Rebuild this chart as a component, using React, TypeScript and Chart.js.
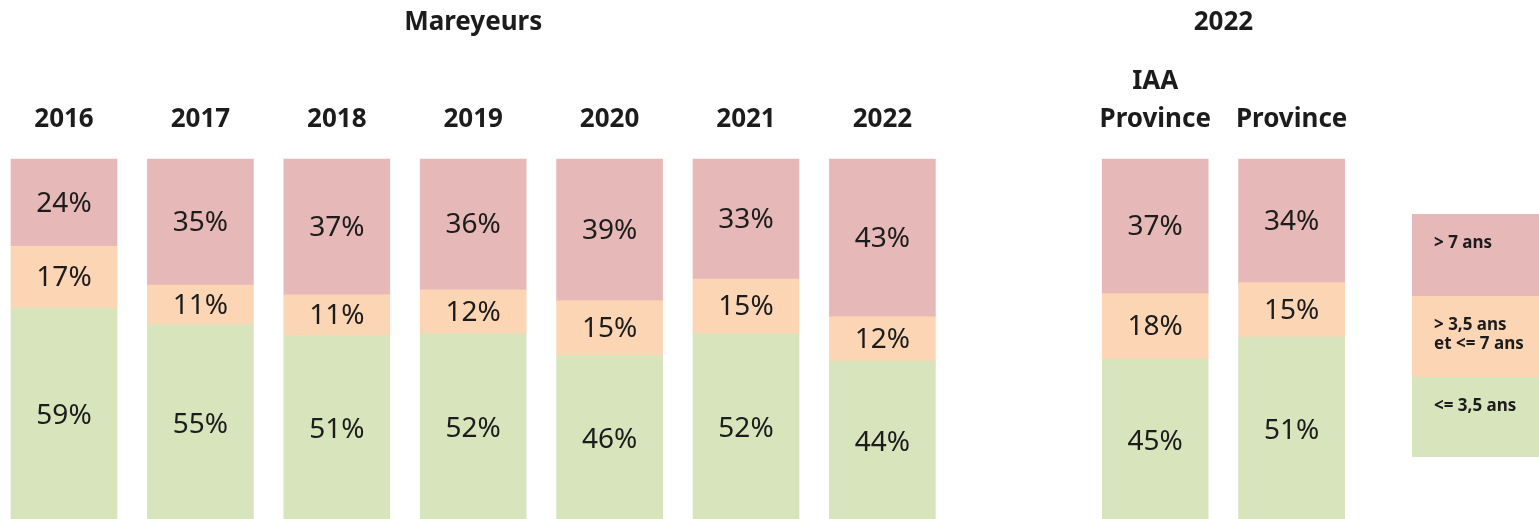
import React, { useEffect, useRef } from "react";
import { Chart, registerables } from "chart.js";

Chart.register(...registerables);

// ---- data ----
const CATEGORIES: (string | string[])[] = [
  "2016", "2017", "2018", "2019", "2020", "2021", "2022", "", ["IAA", "Province"], "Province",
];
const LOW_VALUES = [59, 55, 51, 52, 46, 52, 44, null, 45, 51]; // <= 3,5 ans
const MID_VALUES = [17, 11, 11, 12, 15, 15, 12, null, 18, 15]; // > 3,5 ans et <= 7 ans
const HIGH_VALUES = [24, 35, 37, 36, 39, 33, 43, null, 37, 34]; // > 7 ans

const SERIES_NAMES = ["<= 3,5 ans", "> 3,5 ans et <= 7 ans", "> 7 ans"];
const LEGEND_LINES = [["> 7 ans"], ["> 3,5 ans", "et <= 7 ans"], ["<= 3,5 ans"]];
const GROUP_TITLES = ["Mareyeurs", "2022"];
const GROUP_FIRST = [0, 8];
const GROUP_LAST = [6, 9];

const COLORS = { low: "#D8E4BC", mid: "#FCD5B4", high: "#E6B8B7" };
const TEXT = "#1c1c1c";
const FONT = "'Noto Sans', 'Open Sans', sans-serif";

const W = 1539;
const H = 519;

function normalized(arr: (number | null)[]) {
  return arr.map((v, i) => {
    if (v == null) return null;
    const tot = (LOW_VALUES[i] || 0) + (MID_VALUES[i] || 0) + (HIGH_VALUES[i] || 0);
    return (v / tot) * 100;
  });
}

const RAW = [LOW_VALUES, MID_VALUES, HIGH_VALUES];

const labelsPlugin = {
  id: "customLabels",
  afterDatasetsDraw(chart: any) {
    const ctx = chart.ctx;
    const xs = chart.scales.x;
    ctx.save();
    // value labels
    ctx.fillStyle = TEXT;
    ctx.textAlign = "center";
    ctx.textBaseline = "middle";
    ctx.font = `28px ${FONT}`;
    chart.data.datasets.forEach((ds: any, di: number) => {
      const meta = chart.getDatasetMeta(di);
      meta.data.forEach((el: any, i: number) => {
        const raw = RAW[di][i];
        if (raw == null) return;
        const y = (el.y + el.base) / 2;
        ctx.fillText(`${raw}%`, el.x, y + 1);
      });
    });
    // category labels
    ctx.font = `bold 26px ${FONT}`;
    CATEGORIES.forEach((c, i) => {
      const lines = Array.isArray(c) ? c : [c];
      const x = xs.getPixelForValue(i);
      const lh = 38;
      lines.forEach((ln, k) => {
        const y = 120 - (lines.length - 1 - k) * lh;
        ctx.fillText(ln, x, y);
      });
    });
    // group titles
    GROUP_TITLES.forEach((t, g) => {
      const x = (xs.getPixelForValue(GROUP_FIRST[g]) + xs.getPixelForValue(GROUP_LAST[g])) / 2;
      ctx.fillText(t, x, 23);
    });
    // legend box
    const lx = 1412;
    const tops = [214, 296, 377];
    const bottoms = [296, 377, 457];
    const cols = [COLORS.high, COLORS.mid, COLORS.low];
    ctx.textAlign = "left";
    ctx.font = `bold 17px ${FONT}`;
    for (let k = 0; k < 3; k++) {
      ctx.fillStyle = cols[k];
      ctx.fillRect(lx, tops[k], W - lx, bottoms[k] - tops[k]);
      ctx.fillStyle = TEXT;
      LEGEND_LINES[k].forEach((ln, j) => {
        ctx.fillText(ln, lx + 22, tops[k] + 29 + j * 19);
      });
    }
    ctx.restore();
  },
};

export default function App() {
  const ref = useRef<HTMLCanvasElement | null>(null);
  useEffect(() => {
    document.body.style.margin = "0";
    if (!ref.current) return;
    const chart = new Chart(ref.current, {
      type: "bar",
      data: {
        labels: CATEGORIES as any,
        datasets: [
          { label: SERIES_NAMES[0], data: normalized(LOW_VALUES), backgroundColor: COLORS.low },
          { label: SERIES_NAMES[1], data: normalized(MID_VALUES), backgroundColor: COLORS.mid },
          { label: SERIES_NAMES[2], data: normalized(HIGH_VALUES), backgroundColor: COLORS.high },
        ] as any,
      },
      options: {
        animation: false,
        responsive: false,
        devicePixelRatio: 1,
        maintainAspectRatio: false,
        layout: { padding: { left: 64, right: W - 1291.6, top: 159, bottom: 0 } },
        datasets: { bar: { barThickness: 106, clip: false as any, borderWidth: 0 } },
        scales: {
          x: { type: "category", offset: false, stacked: true, display: false },
          y: { stacked: true, min: 1, max: 100, display: false },
        },
        plugins: { legend: { display: false }, tooltip: { enabled: false }, title: { display: false } },
      },
      plugins: [labelsPlugin],
    });
    return () => chart.destroy();
  }, []);
  return (
    <div style={{ width: W, height: H, position: "relative", background: "#fff" }}>
      <canvas ref={ref} width={W} height={H} style={{ display: "block" }} />
    </div>
  );
}
